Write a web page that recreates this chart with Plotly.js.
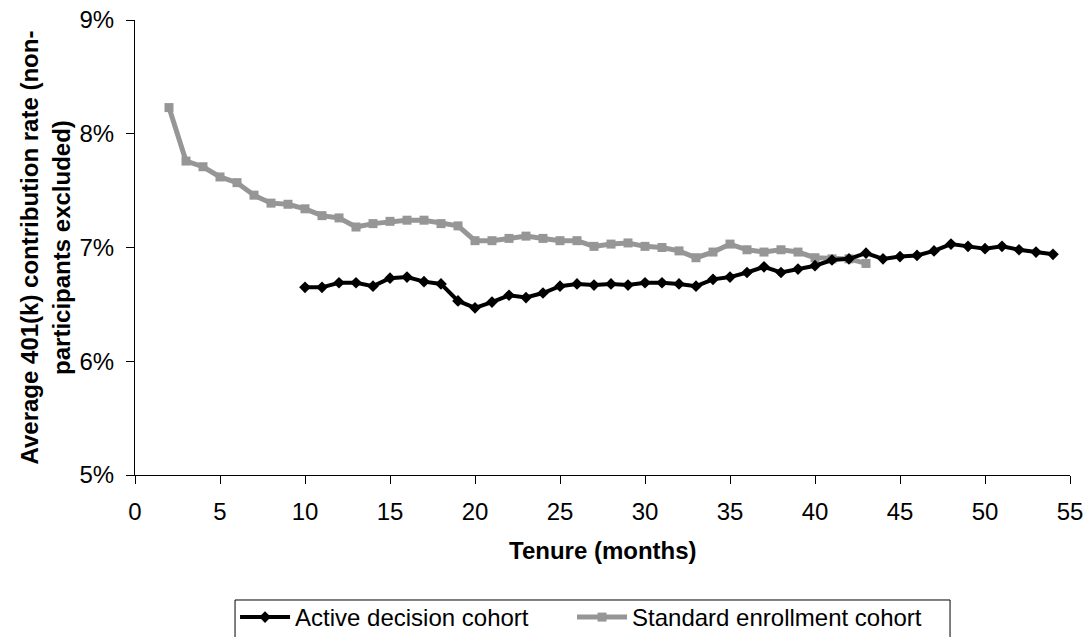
<!DOCTYPE html>
<html>
<head>
<meta charset="utf-8">
<script src="https://cdn.plot.ly/plotly-3.0.1.min.js"></script>
<style>html,body{margin:0;padding:0;background:#fff;}#chart{width:1090px;height:637px;}</style>
</head>
<body>
<div id="chart"></div>
<script>
// Tenure (months)
var activeTenure = [10,11,12,13,14,15,16,17,18,19,20,21,22,23,24,25,26,27,28,29,30,31,32,33,34,35,36,37,38,39,40,41,42,43,44,45,46,47,48,49,50,51,52,53,54];
// Average contribution rate, active decision cohort
var activeRate = [0.0665,0.0665,0.0669,0.0669,0.0666,0.0673,0.0674,0.0670,0.0668,0.0653,0.0647,0.0652,0.0658,0.0656,0.0660,0.0666,0.0668,0.0667,0.0668,0.0667,0.0669,0.0669,0.0668,0.0666,0.0672,0.0674,0.0678,0.0683,0.0678,0.0681,0.0684,0.0689,0.0690,0.0695,0.0690,0.0692,0.0693,0.0697,0.0703,0.0701,0.0699,0.0701,0.0698,0.0696,0.0694];

var standardTenure = [2,3,4,5,6,7,8,9,10,11,12,13,14,15,16,17,18,19,20,21,22,23,24,25,26,27,28,29,30,31,32,33,34,35,36,37,38,39,40,41,42,43];
var standardRate = [0.0823,0.0776,0.0771,0.0762,0.0757,0.0746,0.0739,0.0738,0.0734,0.0728,0.0726,0.0718,0.0721,0.0723,0.0724,0.0724,0.0721,0.0719,0.0706,0.0706,0.0708,0.0710,0.0708,0.0706,0.0706,0.0701,0.0703,0.0704,0.0701,0.0700,0.0697,0.0691,0.0696,0.0703,0.0698,0.0696,0.0698,0.0696,0.0691,0.0690,0.0690,0.0686];

var xTicks = [0,5,10,15,20,25,30,35,40,45,50,55];
var yTicks = [0.05,0.06,0.07,0.08,0.09];

var FONT = 'Arial, "Liberation Sans", sans-serif';

var traces = [
  {
    x: standardTenure, y: standardRate, name: 'Standard enrollment cohort',
    type: 'scatter', mode: 'lines+markers', legend: 'legend2',
    line: {color: '#969696', width: 5},
    marker: {symbol: 'square', size: 9, color: '#969696'}
  },
  {
    x: activeTenure, y: activeRate, name: 'Active decision cohort',
    type: 'scatter', mode: 'lines+markers', legend: 'legend',
    line: {color: '#000000', width: 4},
    marker: {symbol: 'diamond', size: 9, color: '#000000'}
  }
];

var legendCommon = {
  orientation: 'h', xanchor: 'left', y: -0.2637, yanchor: 'top',
  borderwidth: 0, bgcolor: 'rgba(0,0,0,0)', itemwidth: 50,
  font: {family: FONT, size: 24, color: '#000'}
};

var layout = {
  width: 1090, height: 637,
  paper_bgcolor: '#ffffff', plot_bgcolor: '#ffffff',
  margin: {l: 135, r: 20, t: 20, b: 162, autoexpand: false},
  font: {family: FONT, size: 24, color: '#000'},
  showlegend: true,
  legend: Object.assign({}, legendCommon, {x: 0.107}),
  legend2: Object.assign({}, legendCommon, {x: 0.4674}),
  shapes: [
    {type: 'rect', xref: 'paper', yref: 'paper',
     x0: 0.107, x1: 0.8717, y0: -0.2747, y1: -0.385,
     line: {color: '#000', width: 1}, fillcolor: 'rgba(0,0,0,0)', layer: 'above'}
  ],
  xaxis: {
    range: [0, 55], tickvals: xTicks, ticktext: xTicks.map(String),
    showgrid: false, zeroline: false,
    showline: true, linecolor: '#000', linewidth: 1,
    ticks: 'outside', ticklen: 8, tickcolor: '#000',
    ticklabelstandoff: 7,
    tickfont: {family: FONT, size: 24, color: '#000'},
    title: {text: ''}
  },
  yaxis: {
    range: [0.05, 0.09], tickvals: yTicks, tickformat: '.0%',
    showgrid: false, zeroline: false,
    showline: true, linecolor: '#000', linewidth: 1,
    ticks: 'outside', ticklen: 8, tickcolor: '#000',
    ticklabelstandoff: 7,
    tickfont: {family: FONT, size: 24, color: '#000'},
    title: {text: ''}
  },
  annotations: [
    {
      text: '<b>Tenure (months)</b>', xref: 'paper', yref: 'paper',
      x: 0.5, y: -0.167, xanchor: 'center', yanchor: 'middle', showarrow: false,
      font: {family: FONT, size: 24, color: '#000'}
    },
    {
      text: '<b>Average 401(k) contribution rate (non-<br>participants excluded)</b>',
      xref: 'paper', yref: 'paper', x: -0.0963, y: 0.5,
      xanchor: 'center', yanchor: 'middle', textangle: -90, showarrow: false,
      font: {family: FONT, size: 24, color: '#000'}
    }
  ]
};

Plotly.newPlot('chart', traces, layout, {displayModeBar: false, staticPlot: true});
</script>
</body>
</html>
